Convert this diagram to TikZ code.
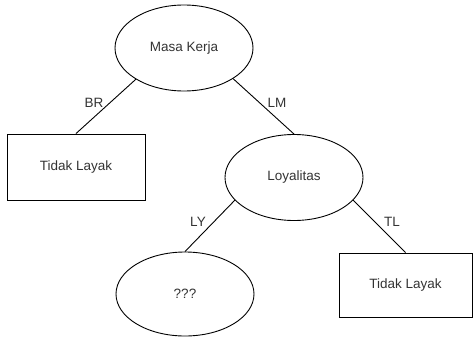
\documentclass[tikz,border=0pt]{standalone}
\usepackage{fontspec}
\setmainfont{Liberation Sans}
\usepackage{tikz}
\usetikzlibrary{shapes.geometric}
\usetikzlibrary{positioning}
\definecolor{txt}{HTML}{333333}

\begin{document}
\begin{tikzpicture}[x=1pt,y=-1pt,line width=0.9pt,
  font=\fontsize{13.5}{16}\selectfont,
  oval/.style={ellipse,draw=black,text=txt,minimum width=138pt,minimum height=86pt,inner sep=0pt},
  box/.style={rectangle,draw=black,text=txt,minimum width=138pt,minimum height=66pt,inner sep=0pt},
  lbl/.style={text=txt,inner sep=1pt}]
\useasboundingbox (0,0) rectangle (473,337);
\node at (184,48)[oval](mk){Masa Kerja};
\node at (76,167)[box](tl1){Tidak Layak};
\node at (294,177.5)[oval](loy){Loyalitas};
\node at (185,294)[oval,minimum height=84pt](unk){???};
\node at (405.5,285)[box,minimum width=133pt,minimum height=64pt](tl2){Tidak Layak};
\draw (mk.213) -- (tl1.north);
\draw (mk.-32) -- (loy.north);
\draw (loy.201) -- (unk.north);
\draw (loy.-21) -- (tl2.north);
\node at (94,103)[lbl](br){BR};
\node at (277,103)[lbl](lm){LM};
\node at (198,222)[lbl](ly){LY};
\node at (392,222)[lbl](tl){TL};
\end{tikzpicture}
\end{document}
